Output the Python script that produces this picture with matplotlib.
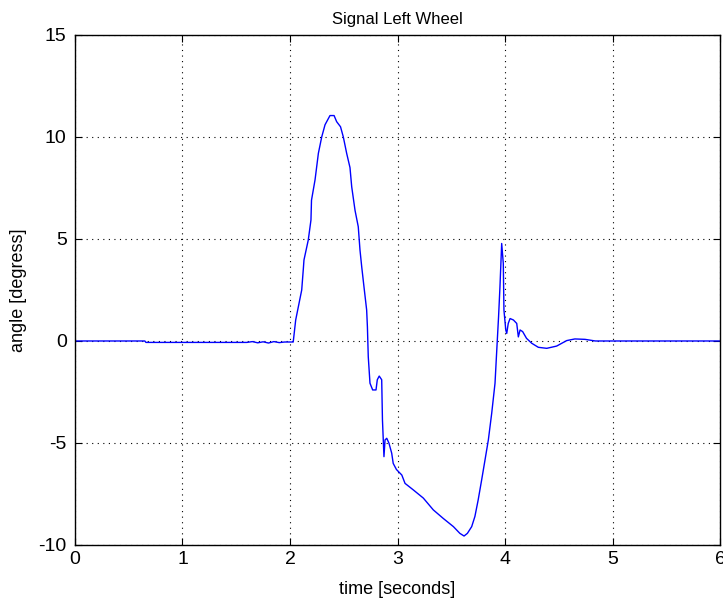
import numpy as np
import matplotlib.pyplot as plt

plt.rcParams['font.family'] = ['Liberation Sans', 'DejaVu Sans']
plt.rcParams['axes.unicode_minus'] = False

# signal (time in s, angle in degrees)
t = [0.0, 0.65, 0.66, 1.60, 1.65, 1.70, 1.75, 1.80, 1.85, 1.90, 1.95, 2.03,
     2.053, 2.109, 2.125, 2.13, 2.17, 2.195, 2.20, 2.233, 2.264, 2.295, 2.326, 2.372,
     2.41, 2.434, 2.47, 2.496, 2.527, 2.558, 2.574, 2.605, 2.635, 2.651, 2.667,
     2.688, 2.713, 2.72, 2.728, 2.744, 2.769, 2.80, 2.812, 2.83, 2.853, 2.86,
     2.874, 2.884, 2.90, 2.92, 2.946, 2.96, 2.99, 3.04, 3.07, 3.147, 3.24, 3.333,
     3.426, 3.52, 3.58, 3.619, 3.65, 3.69, 3.72, 3.75, 3.783, 3.814, 3.845, 3.876,
     3.907, 3.92, 3.94, 3.953, 3.969, 3.984, 3.99, 4.007, 4.016, 4.03, 4.047,
     4.078, 4.109, 4.124, 4.14, 4.164, 4.2, 4.248, 4.31, 4.388, 4.48, 4.574,
     4.65, 4.744, 4.84, 6.0]
angle = [0.0, 0.0, -0.07, -0.07, -0.03, -0.09, -0.04, -0.1, -0.03, -0.08, -0.05, -0.05,
         1.03, 2.5, 3.6, 3.97, 4.95, 5.93, 6.9, 7.9, 9.2, 10.0, 10.6, 11.05,
         11.05, 10.75, 10.5, 10.0, 9.2, 8.5, 7.56, 6.4, 5.6, 4.46, 3.64,
         2.66, 1.52, 0.7, -0.77, -2.07, -2.4, -2.4, -1.9, -1.72, -1.9, -3.87,
         -5.67, -4.85, -4.77, -5.0, -5.5, -6.0, -6.3, -6.57, -6.98, -7.3, -7.7, -8.28,
         -8.7, -9.1, -9.43, -9.56, -9.43, -9.1, -8.6, -7.8, -6.8, -5.83, -4.85, -3.55,
         -2.07, -0.77, 1.19, 2.66, 4.78, 3.8, 1.52, 0.54, 0.37, 0.86, 1.1,
         1.03, 0.86, 0.2, 0.54, 0.46, 0.13, -0.11, -0.31, -0.36, -0.25, 0.02,
         0.1, 0.08, 0.0, 0.0]

fig = plt.figure(figsize=(7.23, 6.03), dpi=100)
ax = fig.add_axes([0.1037, 0.0962, 0.8922, 0.8458])

ax.plot(t, angle, color='#0000ff', linewidth=1.0)

ax.set_xlim(0, 6)
ax.set_ylim(-10, 15)
ax.set_xticks(range(0, 7))
ax.set_yticks(range(-10, 16, 5))
ax.grid(True, color='black', linestyle=(0, (1, 4)), linewidth=0.8)
ax.tick_params(direction='in', top=True, right=True, labelsize=14, length=5)
ax.tick_params(axis='x', pad=4)
ax.tick_params(axis='y', pad=6)
for s in ax.spines.values():
    s.set_linewidth(1.0)

ax.set_title("Signal Left Wheel", fontsize=12, pad=8)
ax.set_xlabel("time [seconds]", fontsize=13, labelpad=10)
ax.set_ylabel("angle [degress]", fontsize=13, labelpad=8)

fig.savefig("out.png", dpi=100)
